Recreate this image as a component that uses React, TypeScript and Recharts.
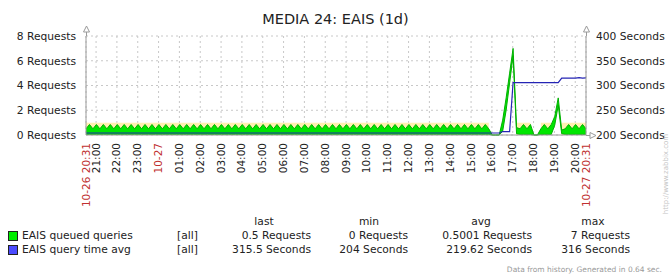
import React from "react";
import { ComposedChart, Area, Line, XAxis, YAxis, CartesianGrid } from "recharts";

// one sample every 10 minutes, starting 10-26 20:31
const STEP_MINUTES = 10;

// EAIS queued queries (Requests) – upper envelope per step
const queuedHigh = [
  0.5, 0.85, 0.5, 0.85, 0.5, 0.85, 0.5, 0.85, 0.5, 0.85,
  0.5, 0.85, 0.5, 0.85, 0.5, 0.85, 0.5, 0.85, 0.5, 0.85,
  0.5, 0.85, 0.5, 0.85, 0.5, 0.85, 0.5, 0.85, 0.5, 0.85,
  0.5, 0.85, 0.5, 0.85, 0.5, 0.85, 0.5, 0.85, 0.5, 0.85,
  0.5, 0.85, 0.5, 0.85, 0.5, 0.85, 0.5, 0.85, 0.5, 0.85,
  0.5, 0.85, 0.5, 0.85, 0.5, 0.85, 0.5, 0.85, 0.5, 0.85,
  0.5, 0.85, 0.5, 0.85, 0.5, 0.85, 0.5, 0.85, 0.5, 0.85,
  0.5, 0.85, 0.5, 0.85, 0.5, 0.85, 0.5, 0.85, 0.5, 0.85,
  0.5, 0.85, 0.5, 0.85, 0.5, 0.85, 0.5, 0.85, 0.5, 0.85,
  0.5, 0.85, 0.5, 0.85, 0.5, 0.85, 0.5, 0.85, 0.5, 0.85,
  0.5, 0.85, 0.5, 0.85, 0.5, 0.85, 0.5, 0.85, 0.5, 0.85,
  0.5, 0.85, 0.5, 0.85, 0.5, 0.85, 0.5, 0, 0, 0,
  1.2, 3, 5, 7, 0.6, 0.5, 0.85, 0.5, 0.85, 0,
  0, 0.5, 0.85, 0.5, 0.85, 1.5, 3, 0.4, 0.5, 0.85,
  0.5, 0.85, 0.5, 0.85, 0.5,
];

// EAIS queued queries (Requests) – lower envelope per step
const queuedLow = [
  0.05, 0.05, 0.05, 0.05, 0.05, 0.05, 0.05, 0.05, 0.05, 0.05,
  0.05, 0.05, 0.05, 0.05, 0.05, 0.05, 0.05, 0.05, 0.05, 0.05,
  0.05, 0.05, 0.05, 0.05, 0.05, 0.05, 0.05, 0.05, 0.05, 0.05,
  0.05, 0.05, 0.05, 0.05, 0.05, 0.05, 0.05, 0.05, 0.05, 0.05,
  0.05, 0.05, 0.05, 0.05, 0.05, 0.05, 0.05, 0.05, 0.05, 0.05,
  0.05, 0.05, 0.05, 0.05, 0.05, 0.05, 0.05, 0.05, 0.05, 0.05,
  0.05, 0.05, 0.05, 0.05, 0.05, 0.05, 0.05, 0.05, 0.05, 0.05,
  0.05, 0.05, 0.05, 0.05, 0.05, 0.05, 0.05, 0.05, 0.05, 0.05,
  0.05, 0.05, 0.05, 0.05, 0.05, 0.05, 0.05, 0.05, 0.05, 0.05,
  0.05, 0.05, 0.05, 0.05, 0.05, 0.05, 0.05, 0.05, 0.05, 0.05,
  0.05, 0.05, 0.05, 0.05, 0.05, 0.05, 0.05, 0.05, 0.05, 0.05,
  0.05, 0.05, 0.05, 0.05, 0.05, 0.05, 0.05, 0, 0, 0,
  0.3, 2.0, 4.2, 6.4, 0.1, 0.05, 0.05, 0.05, 0.05, 0,
  0, 0.05, 0.05, 0.05, 0.05, 0.8, 2.4, 0.1, 0.05, 0.05,
  0.05, 0.05, 0.05, 0.05, 0.05,
];

// EAIS queued queries (Requests) – peak band per step (null = no band)
const queuedPeak = [
  1, 1, 1, 1, 1, 1, 1, 1, 1, 1,
  1, 1, 1, 1, 1, 1, 1, 1, 1, 1,
  1, 1, 1, 1, 1, 1, 1, 1, 1, 1,
  1, 1, 1, 1, 1, 1, 1, 1, 1, 1,
  1, 1, 1, 1, 1, 1, 1, 1, 1, 1,
  1, 1, 1, 1, 1, 1, 1, 1, 1, 1,
  1, 1, 1, 1, 1, 1, 1, 1, 1, 1,
  1, 1, 1, 1, 1, 1, 1, 1, 1, 1,
  1, 1, 1, 1, 1, 1, 1, 1, 1, 1,
  1, 1, 1, 1, 1, 1, 1, 1, 1, 1,
  1, 1, 1, 1, 1, 1, 1, 1, 1, 1,
  1, 1, 1, 1, 1, 1, 1, null, null, null,
  null, null, null, null, 1, 1, 1, 1, 1, null,
  null, 1, 1, 1, 1, null, null, 1, 1, 1,
  1, 1, 1, 1, 1,
];

// EAIS query time avg (Seconds)
const queryTime = [
  204, 204, 204, 204, 204, 204, 204, 204, 204, 204,
  204, 204, 204, 204, 204, 204, 204, 204, 204, 204,
  204, 204, 204, 204, 204, 204, 204, 204, 204, 204,
  204, 204, 204, 204, 204, 204, 204, 204, 204, 204,
  204, 204, 204, 204, 204, 204, 204, 204, 204, 204,
  204, 204, 204, 204, 204, 204, 204, 204, 204, 204,
  204, 204, 204, 204, 204, 204, 204, 204, 204, 204,
  204, 204, 204, 204, 204, 204, 204, 204, 204, 204,
  204, 204, 204, 204, 204, 204, 204, 204, 204, 204,
  204, 204, 204, 204, 204, 204, 204, 204, 204, 204,
  204, 204, 204, 204, 204, 204, 204, 204, 204, 204,
  204, 204, 204, 204, 204, 204, 204, 204, 204, 204,
  207, 207, 207, 306, 306, 306, 306, 306, 306, 306,
  306, 306, 306, 306, 306, 306, 306, 315, 315, 315,
  315, 315, 316, 315, 315.5,
];

// x ticks: minutes after 10-26 20:31
const tickMinutes = [
  0, 29, 89, 149, 209, 269, 329, 389, 449, 509, 569, 629, 689,
  749, 809, 869, 929, 989, 1049, 1109, 1169, 1229, 1289, 1349, 1409, 1440,
];
const tickLabels = [
  "10-26 20:31", "21:00", "22:00", "23:00", "10-27", "01:00", "02:00", "03:00",
  "04:00", "05:00", "06:00", "07:00", "08:00", "09:00", "10:00", "11:00", "12:00",
  "13:00", "14:00", "15:00", "16:00", "17:00", "18:00", "19:00", "20:00", "10-27 20:31",
];
const dateLabels = ["10-26 20:31", "10-27", "10-27 20:31"];

const requestTicks = [0, 2, 4, 6, 8];
const secondTicks = [200, 250, 300, 350, 400];

const legendRows = [
  { name: "EAIS queued queries", color: "#00EE00", last: "0.5 Requests", min: "0 Requests", avg: "0.5001 Requests", max: "7 Requests" },
  { name: "EAIS query time avg", color: "#4B4BFF", last: "315.5 Seconds", min: "204 Seconds", avg: "219.62 Seconds", max: "316 Seconds" },
];

const data = queuedHigh.map((v, i) => ({
  t: i * STEP_MINUTES,
  band: [queuedLow[i], v],
  peak: queuedPeak[i],
  qt: queryTime[i],
}));

const FONT = "'DejaVu Sans', sans-serif";

const XTick = (props: any) => {
  const { x, y, payload } = props;
  const idx = tickMinutes.indexOf(payload.value);
  const label = tickLabels[idx];
  const red = dateLabels.includes(label);
  return (
    <text
      transform={`translate(${x + 3.5},${y}) rotate(-90)`}
      textAnchor="end"
      fontSize={10.5}
      fontFamily={FONT}
      fill={red ? "#C03030" : "#222"}
    >
      {label}
    </text>
  );
};

const abs = (left: number, top: number, extra: React.CSSProperties = {}): React.CSSProperties => ({
  position: "absolute",
  left,
  top,
  whiteSpace: "nowrap",
  lineHeight: "12px",
  ...extra,
});

export default function App() {
  const tickStyle = { fontSize: 10.7, fill: "#222", fontFamily: FONT };
  const colRight = [311, 408, 532, 630];
  const colCenter = [264, 369, 481, 593];
  const heads = ["last", "min", "avg", "max"];
  return (
    <div
      style={{
        position: "absolute",
        left: 0,
        top: 0,
        width: 671,
        height: 276,
        background: "#fff",
        fontFamily: FONT,
        fontSize: 10.7,
        color: "#222",
        overflow: "hidden",
      }}
    >
      <ComposedChart
        width={671}
        height={276}
        data={data}
        margin={{ top: 36, right: 0, bottom: 80, left: 0 }}
      >
        <CartesianGrid yAxisId="req" stroke="#c8c8c8" strokeDasharray="2 3" />
        <XAxis
          dataKey="t"
          type="number"
          domain={[0, 1440]}
          ticks={tickMinutes}
          interval={0}
          height={61}
          tickLine={false}
          tickSize={0}
          tickMargin={8}
          axisLine={{ stroke: "#9a9a9a" }}
          tick={<XTick />}
        />
        <YAxis
          yAxisId="req"
          domain={[0, 8]}
          ticks={requestTicks}
          width={86}
          tickLine={false}
          tickSize={0}
          tickMargin={10}
          axisLine={{ stroke: "#9a9a9a" }}
          tick={tickStyle}
          tickFormatter={(v: number) => `${v} Requests`}
        />
        <YAxis
          yAxisId="sec"
          orientation="right"
          domain={[200, 400]}
          ticks={secondTicks}
          width={85}
          tickLine={false}
          tickSize={0}
          tickMargin={10}
          axisLine={{ stroke: "#9a9a9a" }}
          tick={tickStyle}
          tickFormatter={(v: number) => `${v} Seconds`}
        />
        <Area
          yAxisId="req"
          dataKey="peak"
          type="linear"
          fill="#FFF0B0"
          fillOpacity={1}
          stroke="none"
          isAnimationActive={false}
        />
        <Area
          yAxisId="req"
          dataKey="band"
          type="linear"
          fill="#00E600"
          fillOpacity={1}
          stroke="#00B000"
          strokeWidth={1}
          isAnimationActive={false}
        />
        <Line
          yAxisId="sec"
          dataKey="qt"
          type="linear"
          stroke="#2424B4"
          strokeWidth={1.2}
          dot={false}
          isAnimationActive={false}
        />
      </ComposedChart>

      <svg
        width={671}
        height={276}
        style={{ position: "absolute", left: 0, top: 0, pointerEvents: "none" }}
      >
        <line x1={86.5} y1={28} x2={86.5} y2={36} stroke="#9a9a9a" />
        <polygon points="83.5,32 86.5,26 89.5,32" fill="#fff" stroke="#9a9a9a" />
        <line x1={586.5} y1={28} x2={586.5} y2={36} stroke="#9a9a9a" />
        <polygon points="583.5,32 586.5,26 589.5,32" fill="#fff" stroke="#9a9a9a" />
        <line x1={586} y1={135.5} x2={592} y2={135.5} stroke="#9a9a9a" />
        <polygon points="590,132.5 596,135.5 590,138.5" fill="#fff" stroke="#9a9a9a" />
      </svg>

      <div style={abs(0, 10, { width: 671, textAlign: "center", fontSize: 14.5, lineHeight: "18px", color: "#222" })}>
        MEDIA 24: EAIS (1d)
      </div>

      {heads.map((h, i) => (
        <div key={h} style={abs(colCenter[i] - 40, 216, { width: 80, textAlign: "center" })}>
          {h}
        </div>
      ))}

      {legendRows.map((r, ri) => {
        const top = 230 + ri * 14;
        const vals = [r.last, r.min, r.avg, r.max];
        return (
          <React.Fragment key={r.name}>
            <div
              style={abs(8, top + 1, {
                width: 10,
                height: 10,
                background: r.color,
                border: "1px solid #222",
                boxSizing: "border-box",
              })}
            />
            <div style={abs(22, top)}>{r.name}</div>
            <div style={abs(177, top)}>[all]</div>
            {vals.map((v, i) => (
              <div key={i} style={abs(colRight[i] - 150, top, { width: 150, textAlign: "right" })}>
                {v}
              </div>
            ))}
          </React.Fragment>
        );
      })}

      <div style={abs(462, 265, { width: 200, textAlign: "right", fontSize: 7.5, color: "#9a9a9a", lineHeight: "10px" })}>
        Data from history. Generated in 0.64 sec.
      </div>

      <div
        style={abs(606, 169, {
          width: 120,
          textAlign: "center",
          fontSize: 7,
          lineHeight: "10px",
          color: "#c4c4c4",
          transform: "rotate(-90deg)",
          transformOrigin: "60px 5px",
        })}
      >
        http://www.zabbix.com
      </div>
    </div>
  );
}
